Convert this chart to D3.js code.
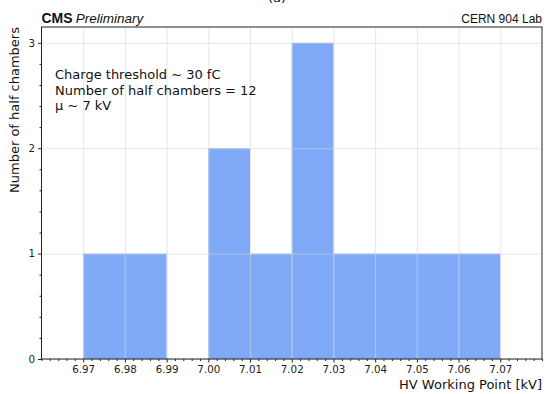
<!DOCTYPE html>
<html lang="en">
<head>
<meta charset="UTF-8" />
<title>HV Working Point histogram</title>
<script src="https://d3js.org/d3.v7.min.js"></script>
<style>
    body { margin: 0; background: white; }
    svg text { font-family: "DejaVu Sans", sans-serif; fill: #111; }
    .grid line { stroke: #d4d4d4; stroke-opacity: 0.55; }
    .grid .domain { stroke: none; }
    .axis .domain { stroke: none; }
    .axis line { stroke: #222; }
    .axis text { font-size: 10.3px; fill: #222; }
</style>
</head>
<body>
<div id="chart"></div>
<script>
    // histogram bins (kV) and counts
    const binEdges = [6.97, 6.98, 6.99, 7.00, 7.01, 7.02, 7.03, 7.04, 7.05, 7.06, 7.07];
    const counts = [1, 1, 0, 2, 1, 3, 1, 1, 1, 1];
    const xTicks = [6.97, 6.98, 6.99, 7.00, 7.01, 7.02, 7.03, 7.04, 7.05, 7.06, 7.07];
    const yTicks = [0, 1, 2, 3];
    const infoLines = ["Charge threshold ~ 30 fC", "Number of half chambers = 12", "\u03bc ~ 7 kV"];

    const W = 549, H = 394;
    const margin = { top: 27, right: 7, bottom: 35, left: 41.5 };
    const width = W - margin.left - margin.right,
          height = H - margin.top - margin.bottom;

    const root = d3.select("#chart").append("svg")
        .attr("width", W)
        .attr("height", H);

    const svg = root.append("g")
        .attr("transform", `translate(${margin.left},${margin.top})`);

    const x = d3.scaleLinear().domain([6.96, 7.08]).range([0, width]);
    const y = d3.scaleLinear().domain([0, 3.15]).range([height, 0]);

    const bins = counts.map((c, i) => ({ x0: binEdges[i], x1: binEdges[i + 1], n: c }));

    svg.selectAll(".bar")
        .data(bins.filter(d => d.n > 0))
        .enter().append("rect")
        .attr("class", "bar")
        .attr("x", d => x(d.x0))
        .attr("width", d => x(d.x1) - x(d.x0))
        .attr("y", d => y(d.n))
        .attr("height", d => y(0) - y(d.n))
        .attr("fill", "#80aaf8");

    // grid on top of the bars, faint
    svg.append("g")
        .attr("class", "grid")
        .attr("transform", `translate(0,${height})`)
        .call(d3.axisBottom(x).tickValues(xTicks).tickSize(-height).tickFormat(""));

    svg.append("g")
        .attr("class", "grid")
        .call(d3.axisLeft(y).tickValues(yTicks).tickSize(-width).tickFormat(""));

    // minor ticks
    const xMinor = d3.range(6.96, 7.0801, 0.002).filter(v => !xTicks.some(t => Math.abs(t - v) < 1e-6));
    const yMinor = d3.range(0, 3.15, 0.2).filter(v => !yTicks.some(t => Math.abs(t - v) < 1e-6));

    svg.append("g")
        .attr("class", "axis")
        .attr("transform", `translate(0,${height})`)
        .call(d3.axisBottom(x).tickValues(xMinor).tickSize(2).tickFormat(""));

    svg.append("g")
        .attr("class", "axis")
        .call(d3.axisLeft(y).tickValues(yMinor).tickSize(2).tickFormat(""));

    svg.append("g")
        .attr("class", "axis")
        .attr("transform", `translate(0,${height})`)
        .call(d3.axisBottom(x).tickValues(xTicks).tickSize(3.5).tickPadding(3).tickFormat(d3.format(".2f")));

    svg.append("g")
        .attr("class", "axis")
        .call(d3.axisLeft(y).tickValues(yTicks).tickSize(3.5).tickPadding(3).tickFormat(d3.format("d")));

    // frame
    svg.append("rect")
        .attr("width", width)
        .attr("height", height)
        .attr("fill", "none")
        .attr("stroke", "#222")
        .attr("stroke-width", 1);

    // axis labels
    svg.append("text")
        .attr("x", width)
        .attr("y", height + 30)
        .attr("text-anchor", "end")
        .attr("font-size", "13px")
        .text("HV Working Point [kV]");

    svg.append("text")
        .attr("transform", `translate(${-23},0) rotate(-90)`)
        .attr("text-anchor", "end")
        .attr("font-size", "13px")
        .text("Number of half chambers");

    // info text
    svg.append("g")
        .selectAll("text")
        .data(infoLines)
        .enter().append("text")
        .attr("x", 13.5)
        .attr("y", (d, i) => 52 + i * 15.5)
        .attr("font-size", "13px")
        .text(d => d);

    // header labels
    const head = svg.append("text")
        .attr("x", 0)
        .attr("y", -4)
        .style("font-family", "'Liberation Sans', Arial, sans-serif");
    head.append("tspan")
        .attr("font-weight", "bold")
        .attr("font-size", "14px")
        .text("CMS");
    head.append("tspan")
        .attr("dx", 3)
        .attr("font-style", "italic")
        .attr("font-size", "13.5px")
        .text("Preliminary");

    svg.append("text")
        .attr("x", width)
        .attr("y", -4)
        .attr("text-anchor", "end")
        .attr("font-size", "12px")
        .style("font-family", "'Liberation Sans', Arial, sans-serif")
        .text("CERN 904 Lab");

    // panel tag, cut by the top edge as in the source image
    root.append("text")
        .attr("x", 277)
        .attr("y", 2)
        .attr("text-anchor", "middle")
        .attr("font-size", "13px")
        .attr("fill", "#777")
        .text("(a)");
</script>
</body>
</html>
